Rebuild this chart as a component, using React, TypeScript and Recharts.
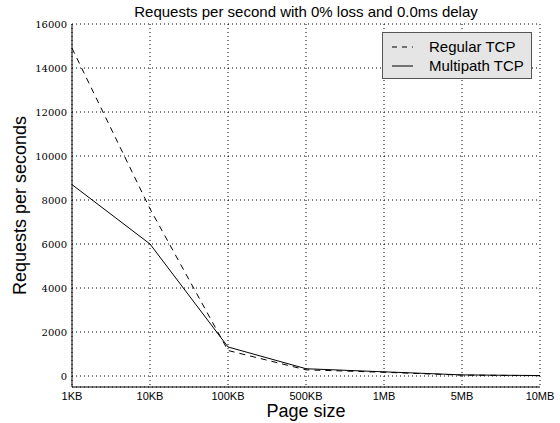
import { LineChart, Line, XAxis, YAxis, CartesianGrid, Legend } from "recharts";

const pageSizes = ["1KB", "10KB", "100KB", "500KB", "1MB", "5MB", "10MB"];
const regularTcp = [14900, 7600, 1160, 280, 170, 40, 15];
const multipathTcp = [8700, 6000, 1320, 330, 190, 50, 20];
const yTicks = [0, 2000, 4000, 6000, 8000, 10000, 12000, 14000, 16000];

const data = pageSizes.map((size, i) => ({
  size,
  regular: regularTcp[i],
  multipath: multipathTcp[i],
}));

const sans = "'Liberation Sans', Arial, sans-serif";

function LegendBox() {
  const rows = [
    { name: "Regular TCP", dash: "5 5" },
    { name: "Multipath TCP", dash: undefined },
  ];
  return (
    <div
      style={{
        width: 148,
        height: 45,
        background: "#e5e5e5",
        border: "1px solid #555",
        fontFamily: sans,
        fontSize: 15,
        color: "#000",
        boxSizing: "content-box",
      }}
    >
      {rows.map((r, i) => (
        <div key={r.name} style={{ display: "flex", alignItems: "center", height: 19, marginTop: i === 0 ? 4 : 0 }}>
          <svg width={46} height={10}>
            <line x1={9} y1={5} x2={30} y2={5} stroke="#000" strokeWidth={1} strokeDasharray={r.dash} />
          </svg>
          <span>{r.name}</span>
        </div>
      ))}
    </div>
  );
}

export default function App() {
  return (
    <div style={{ position: "absolute", left: 0, top: 0, background: "#fff" }}>
      <div
        style={{
          position: "absolute",
          left: 72,
          top: 3,
          width: 468,
          textAlign: "center",
          fontFamily: sans,
          fontSize: 15,
          lineHeight: "17px",
          color: "#000",
          zIndex: 1,
        }}
      >
        Requests per second with 0% loss and 0.0ms delay
      </div>
      <LineChart width={560} height={423} data={data} margin={{ top: 24, right: 20, bottom: 0, left: 0 }}>
        <CartesianGrid stroke="#000" strokeDasharray="1 3" strokeWidth={1} />
        <XAxis
          dataKey="size"
          stroke="#000"
          height={36}
          tickLine={false}
          tickSize={0}
          tickMargin={5}
          interval={0}
          tick={{ fill: "#000", fontSize: 11, fontFamily: sans }}
          label={{ value: "Page size", position: "insideBottom", offset: 6, fill: "#000", fontSize: 18, fontFamily: sans }}
        />
        <XAxis xAxisId="top" dataKey="size" orientation="top" stroke="#000" height={0} tick={false} />
        <YAxis
          domain={[-500, 16000]}
          ticks={yTicks}
          stroke="#000"
          width={72}
          tickLine={false}
          tickSize={0}
          tickMargin={5}
          tick={{ fill: "#000", fontSize: 10, fontFamily: "'DejaVu Serif', serif" }}
          label={{
            value: "Requests per seconds",
            angle: -90,
            position: "insideLeft",
            offset: 20,
            style: { textAnchor: "middle" },
            fill: "#000",
            fontSize: 18,
            fontFamily: sans,
          }}
        />
        <YAxis yAxisId="right" orientation="right" domain={[-500, 16000]} stroke="#000" width={0} tick={false} />
        <Legend
          layout="vertical"
          align="center"
          verticalAlign="middle"
          wrapperStyle={{ left: 382, top: 32, width: 150 }}
          content={() => <LegendBox />}
        />
        <Line
          type="linear"
          dataKey="regular"
          name="Regular TCP"
          stroke="#000"
          strokeWidth={1}
          strokeDasharray="6 5"
          dot={false}
          isAnimationActive={false}
        />
        <Line
          type="linear"
          dataKey="multipath"
          name="Multipath TCP"
          stroke="#000"
          strokeWidth={1}
          dot={false}
          isAnimationActive={false}
        />
      </LineChart>
    </div>
  );
}
